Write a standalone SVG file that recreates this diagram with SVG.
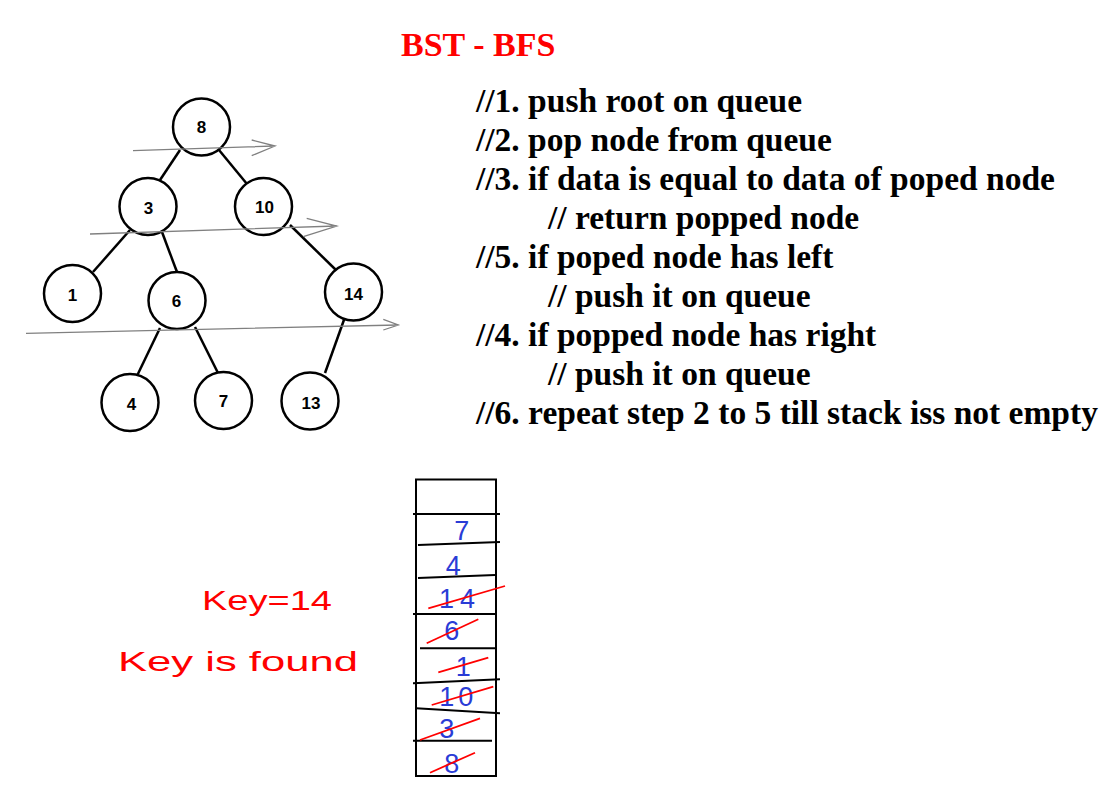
<svg xmlns="http://www.w3.org/2000/svg" width="1117" height="786" viewBox="0 0 1117 786">
<style>
.node circle{fill:#fff;stroke:#000;stroke-width:2.5}
.node text{font-family:"Liberation Sans",Arial,sans-serif;font-weight:bold;font-size:17px;text-anchor:middle;fill:#000}
.edge{stroke:#000;stroke-width:2.5;fill:none}
.sweep{stroke:#808080;stroke-width:1.3;fill:none}
.step{font-family:"Liberation Serif","Times New Roman",serif;font-weight:bold;font-size:33.5px;fill:#000}
.title{font-family:"Liberation Serif","Times New Roman",serif;font-weight:bold;font-size:34px;fill:#ff0000}
.slot{stroke:#000;stroke-width:2;fill:none}
.qv{font-family:"Liberation Sans",Arial,sans-serif;font-size:27px;fill:#2a3cd6;text-anchor:middle}
.strike{stroke:#ff0000;stroke-width:1.8;fill:none}
.hand{font-family:"Liberation Sans",Arial,sans-serif;font-size:28px;fill:#ff0000}
</style>
<rect width="1117" height="786" fill="#fff"/>
<text class="title" x="401" y="56">BST - BFS</text>

<g id="connectors">
<line class="edge" x1="180" y1="150" x2="160" y2="180"/>
<line class="edge" x1="219" y1="150" x2="247" y2="184"/>
<line class="edge" x1="130" y1="230" x2="93" y2="272"/>
<line class="edge" x1="162" y1="232" x2="177" y2="272"/>
<line class="edge" x1="290" y1="225" x2="338" y2="272"/>
<line class="edge" x1="160" y1="328" x2="135" y2="380"/>
<line class="edge" x1="195" y1="327" x2="218" y2="373"/>
<line class="edge" x1="345" y1="317" x2="325" y2="373"/>
</g>

<g id="node-8" class="node"><circle cx="201.5" cy="127" r="28.5"/><text x="201.5" y="133">8</text></g>
<g id="node-3" class="node"><circle cx="148" cy="206.5" r="28.5"/><text x="148.5" y="213.5">3</text></g>
<g id="node-10" class="node"><circle cx="263.5" cy="206.5" r="28.5"/><text x="264.5" y="213">10</text></g>
<g id="node-1" class="node"><circle cx="72.5" cy="293.5" r="28.5"/><text x="72.5" y="300.5">1</text></g>
<g id="node-6" class="node"><circle cx="177" cy="300.5" r="28.5"/><text x="176.5" y="306.5">6</text></g>
<g id="node-14" class="node"><circle cx="353.5" cy="292" r="28.5"/><text x="353.5" y="299.5">14</text></g>
<g id="node-4" class="node"><circle cx="130" cy="402.5" r="28.5"/><text x="131.5" y="409.5">4</text></g>
<g id="node-7" class="node"><circle cx="223.5" cy="400.5" r="28.5"/><text x="223.5" y="407">7</text></g>
<g id="node-13" class="node"><circle cx="310" cy="401" r="28.5"/><text x="311" y="408.5">13</text></g>

<g id="sweeps">
<path class="sweep" d="M133 150.7 L275 146 M251.7 140 L275 146 L251.7 155.7"/>
<path class="sweep" d="M90 234 L336.7 226 M306.7 218.3 L336.7 226 L303.3 236.7"/>
<path class="sweep" d="M26 333.3 L398.3 325 M383.3 319.3 L398.3 325 L383.3 330"/>
</g>

<g id="steps">
<text class="step" x="476" y="112">//1. push root on queue</text>
<text class="step" x="476" y="151">//2. pop node from queue</text>
<text class="step" x="476" y="190">//3. if data is equal to data of poped node</text>
<text class="step" x="548" y="229">// return popped node</text>
<text class="step" x="476" y="268">//5. if poped node has left</text>
<text class="step" x="548" y="307">// push it on queue</text>
<text class="step" x="476" y="346">//4. if popped node has right</text>
<text class="step" x="548" y="385">// push it on queue</text>
<text class="step" x="476" y="424">//6. repeat step 2 to 5 till stack iss not empty</text>
</g>

<g id="queue">
<rect class="slot" x="416" y="479.5" width="80" height="296.5"/>
<line class="slot" x1="413" y1="514" x2="500" y2="514"/>
<line class="slot" x1="418" y1="545" x2="500" y2="542"/>
<line class="slot" x1="418" y1="578" x2="495" y2="575"/>
<line class="slot" x1="413" y1="614" x2="495" y2="614"/>
<line class="slot" x1="420" y1="648.3" x2="495" y2="648.3"/>
<line class="slot" x1="413" y1="683.3" x2="500" y2="679.3"/>
<line class="slot" x1="416" y1="708.3" x2="500" y2="713.3"/>
<line class="slot" x1="413" y1="740.7" x2="492" y2="740.7"/>
<text class="qv" x="461.7" y="540">7</text>
<text class="qv" x="453.3" y="575">4</text>
<text class="qv" x="460" y="608" letter-spacing="6">14</text>
<text class="qv" x="451.7" y="640">6</text>
<text class="qv" x="463.3" y="676">1</text>
<text class="qv" x="458.3" y="706" letter-spacing="4">10</text>
<text class="qv" x="446.7" y="738">3</text>
<text class="qv" x="451.7" y="773">8</text>
<line class="strike" x1="428.3" y1="608.3" x2="505" y2="586"/>
<line class="strike" x1="426.7" y1="643.3" x2="478.3" y2="619.3"/>
<line class="strike" x1="438.3" y1="672.3" x2="488.3" y2="657.7"/>
<line class="strike" x1="431.7" y1="705" x2="493.3" y2="686.7"/>
<line class="strike" x1="420" y1="740" x2="480" y2="718.3"/>
<line class="strike" x1="430" y1="772.7" x2="475" y2="752.7"/>
</g>

<g id="notes">
<text class="hand" x="202" y="610" textLength="130" lengthAdjust="spacingAndGlyphs">Key=14</text>
<text class="hand" x="118" y="671" textLength="240" lengthAdjust="spacingAndGlyphs">Key is found</text>
</g>
</svg>
